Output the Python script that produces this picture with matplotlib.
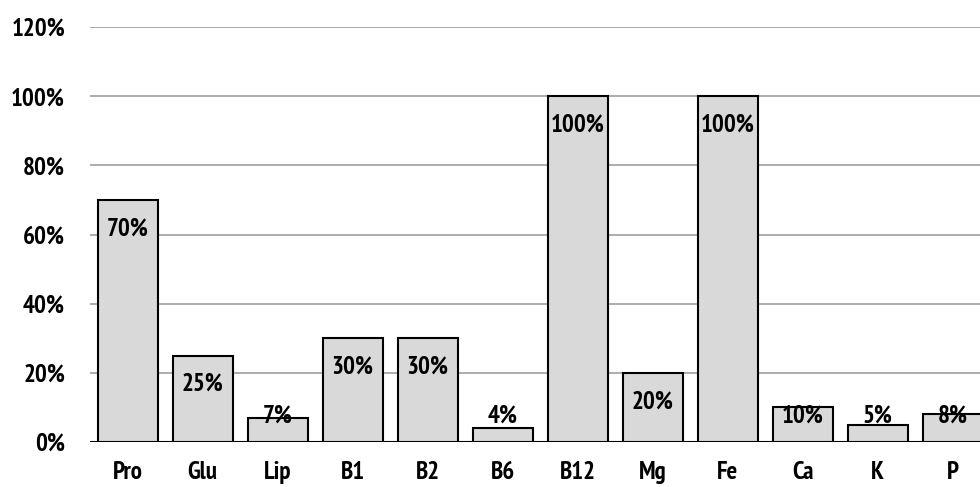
import matplotlib
matplotlib.use("Agg")
import matplotlib.pyplot as plt
from matplotlib.ticker import FuncFormatter

categories = ["Pro", "Glu", "Lip", "B1", "B2", "B6", "B12", "Mg", "Fe", "Ca", "K", "P"]
values = [70, 25, 7, 30, 30, 4, 100, 20, 100, 10, 5, 8]

plt.rcParams["font.family"] = ["PT Sans Narrow", "DejaVu Sans"]
plt.rcParams["font.weight"] = "bold"

fig = plt.figure(figsize=(9.8, 4.87), dpi=100)
# axes runs a little past the right edge, as in the reference
ax = fig.add_axes([90 / 980, (487 - 442) / 487, 900 / 980, (442 - 27) / 487])

x = range(len(categories))
ax.bar(x, values, width=0.8, color="#d9d9d9", edgecolor="black", linewidth=1.5, zorder=3)

for i, v in enumerate(values):
    ypos = max(v - 8.4, 7.5)
    ax.text(i, ypos, f"{v}%", ha="center", va="center", fontsize=18,
            fontweight="bold", zorder=4)

ax.set_xlim(-0.5, 11.5)
ax.set_ylim(0, 120)
ax.set_yticks(range(0, 121, 20))
ax.yaxis.set_major_formatter(FuncFormatter(lambda v, p: f"{v:.0f}%"))
ax.set_xticks(list(x))
ax.set_xticklabels(categories)
ax.grid(axis="y", color="#a6a6a6", linewidth=1.3, zorder=0)
ax.axhline(0, color="black", linewidth=1.5, zorder=2)
for s in ax.spines.values():
    s.set_visible(False)
ax.tick_params(axis="both", length=0, labelsize=18)
ax.tick_params(axis="y", pad=18)
ax.tick_params(axis="x", pad=14)

fig.savefig("out.png", dpi=100)
